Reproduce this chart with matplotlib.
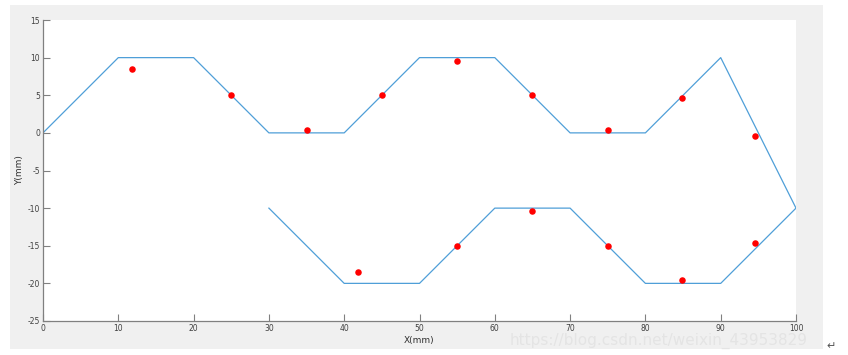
import matplotlib
matplotlib.use("Agg")
import matplotlib.pyplot as plt
from matplotlib.patches import Rectangle

plt.rcParams["axes.unicode_minus"] = False

# Path (blue line)
path_x = [0, 10, 20, 30, 40, 50, 60, 70, 80, 90, 100, 90, 80, 70, 60, 50, 40, 30]
path_y = [0, 10, 10, 0, 0, 10, 10, 0, 0, 10, -10, -20, -20, -10, -10, -20, -20, -10]

# Red measured points
pts_x = [11.8, 25, 35, 45, 55, 65, 75, 84.9, 94.6, 94.6, 84.9, 75, 64.9, 55, 41.8]
pts_y = [8.5, 5, 0.4, 5, 9.6, 5, 0.4, 4.6, -0.4, -14.6, -19.6, -15, -10.4, -15, -18.5]

x_ticks = [0, 10, 20, 30, 40, 50, 60, 70, 80, 90, 100]
y_ticks = [15, 10, 5, 0, -5, -10, -15, -20, -25]

W, H = 848, 355
fig = plt.figure(figsize=(W / 100, H / 100), dpi=100)
fig.patch.set_facecolor("white")

# gray figure panel
fig.patches.append(Rectangle((10 / W, 1 - 349 / H), (823 - 10) / W, (349 - 5) / H,
                             transform=fig.transFigure, facecolor="#f0f0f0",
                             edgecolor="none", zorder=-10))

ax = fig.add_axes([43 / W, 1 - 321 / H, (796 - 43) / W, (321 - 20) / H])
ax.set_facecolor("white")
ax.plot(path_x, path_y, color="#4f9fd8", lw=0.9)
ax.scatter(pts_x, pts_y, s=22, color="#ff0000", zorder=3, linewidths=0)

ax.set_xlim(0, 100)
ax.set_ylim(-25, 15)
ax.set_xticks(x_ticks)
ax.set_yticks(y_ticks)
for s in ["top", "right"]:
    ax.spines[s].set_visible(False)
for s in ["left", "bottom"]:
    ax.spines[s].set_color("#808080")
    ax.spines[s].set_linewidth(0.9)
ax.tick_params(direction="in", length=5, width=0.8, color="#808080",
               labelsize=5.5, labelcolor="#404040", pad=2)
ax.set_xlabel("X(mm)", fontsize=6.5, color="#303030", labelpad=2)
ax.set_ylabel("Y(mm)", fontsize=6.5, color="#303030", labelpad=3)

fig.text(808 / W, 1 - 341 / H, "https://blog.csdn.net/weixin_43953829",
         ha="right", va="center", fontsize=11, color="#e4e4e4")
fig.text(831 / W, 1 - 346 / H, "↵", ha="center", va="center", fontsize=8, color="#555555")

fig.savefig("out.png", dpi=100, facecolor=fig.get_facecolor())
